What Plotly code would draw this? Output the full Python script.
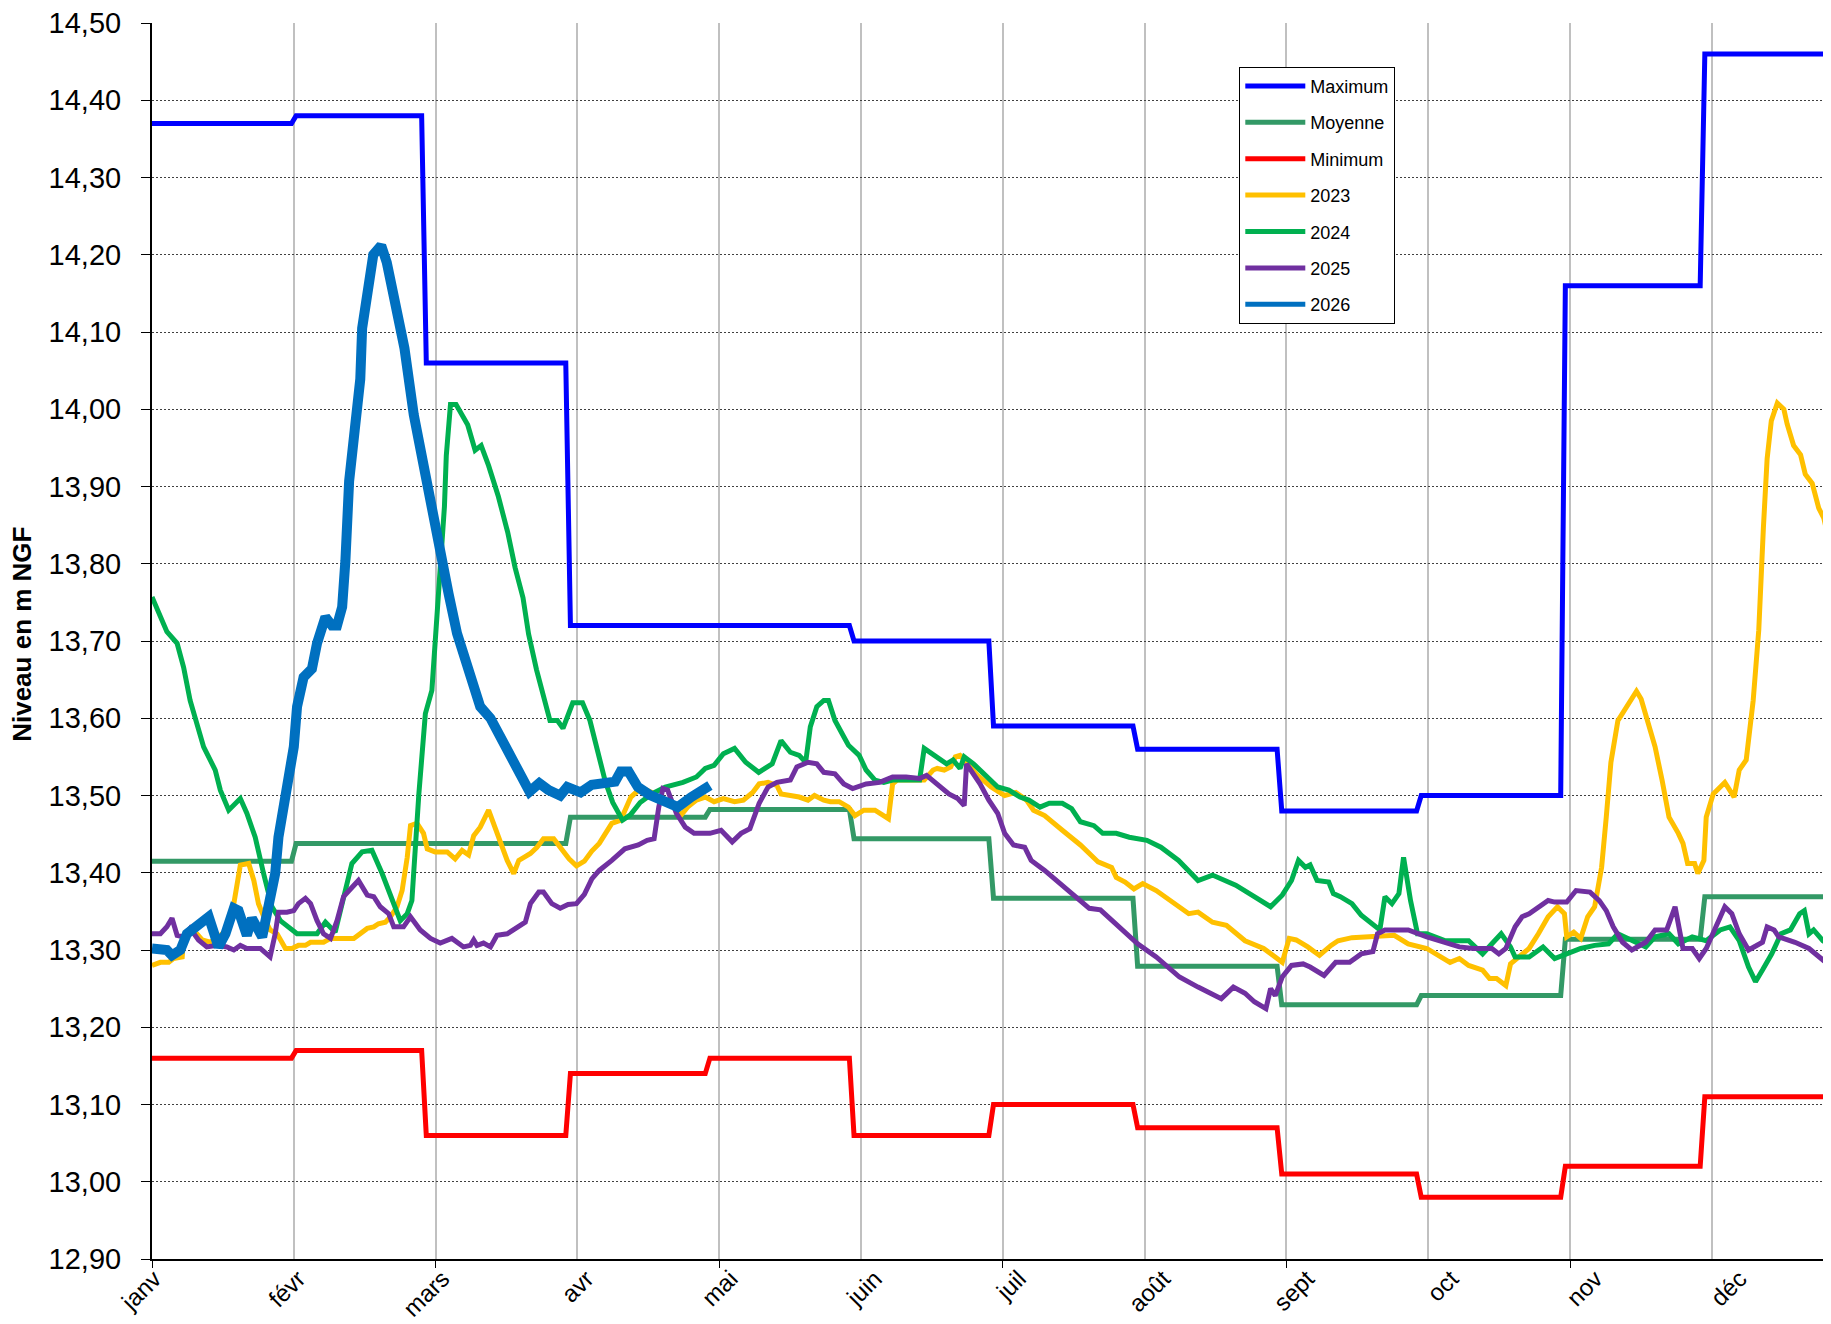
import plotly.graph_objects as go

# ---------------- data ----------------
MONTH_LABELS = ["janv", "févr", "mars", "avr", "mai", "juin",
                "juil", "août", "sept", "oct", "nov", "déc"]
MONTH_START_DAYS = [0, 31, 59, 90, 120, 151, 181, 212, 243, 273, 304, 334]
YEAR_END_DAY = 365
GRID_INTERVAL_DAYS = 30.5      # vertical gridlines
LABEL_INTERVAL_DAYS = 31       # month labels
LABEL_OFFSET_DAYS = 0.5

MAXIMUM = [14.37, 14.38, 14.06, 13.72, 13.72, 13.70, 13.59, 13.56, 13.48, 13.50, 14.16, 14.46]
MOYENNE = [13.415, 13.438, 13.438, 13.472, 13.482, 13.444, 13.367, 13.279, 13.229, 13.241, 13.314, 13.369]
MINIMUM = [13.16, 13.17, 13.06, 13.14, 13.16, 13.06, 13.10, 13.07, 13.01, 12.98, 13.02, 13.11]

DAYS_2023 = [0, 1.8, 3.6, 4.6, 6.5, 6.8, 8.9, 10.8, 12.5, 14.3, 16.1, 17.6, 19.0, 20.8, 21.9, 22.9,
             24.4, 25.4, 26.9, 28.7, 30.1, 31.5, 33.0, 34.1, 36.9, 38.4, 43.4, 44.8, 46.3, 47.7,
             48.7, 50.2, 51.3, 52.7, 53.8, 54.9, 55.6, 57.0, 58.4, 59.2, 60.9, 63.5, 65.2, 66.7,
             68.1, 69.2, 70.6, 72.4, 73.5, 74.9, 76.4, 77.8, 78.9, 80.0, 81.4, 82.8, 84.2, 86.4,
             87.8, 89.7, 91.3, 93.0, 94.6, 96.2, 98.9, 100.8, 103.0, 105.2, 107.5, 109.9, 111.8,
             113.7, 115.2, 117.1, 119.0, 120.9, 122.9, 125.3, 127.2, 129.2, 130.6, 132.5, 134.4,
             135.3, 137.3, 139.2, 141.1, 142.5, 144.5, 145.9, 147.8, 149.8, 151.2, 153.1, 155.5,
             158.4, 159.3, 160.3, 163.2, 166.1, 168.0, 168.9, 170.4, 171.8, 172.8, 173.8, 175.7,
             177.6, 180.5, 183.4, 185.8, 188.1, 189.6, 192.0, 195.8, 199.7, 203.5, 206.4, 207.4,
             209.3, 211.2, 213.1, 216.0, 219.0, 223.0, 225.0, 228.1, 231.1, 235.1, 239.1, 243.1,
             244.6, 246.1, 248.6, 251.1, 253.6, 255.1, 258.1, 261.1, 264.1, 267.2, 270.2, 274.2,
             277.2, 279.2, 281.2, 283.2, 286.2, 287.7, 289.2, 291.2, 292.2, 294.2, 296.2, 298.2,
             300.3, 302.3, 303.8, 304.3, 305.8, 307.3, 308.8, 310.3, 311.8, 312.8, 313.8, 315.3,
             317.3, 318.3, 319.3, 320.3, 321.3, 323.3, 324.8, 326.3, 328.3, 329.3, 330.3, 331.8,
             332.5, 333.8, 334.3, 335.8, 338.3, 340.3, 341.4, 342.9, 344.4, 345.6, 346.6, 347.4,
             348.3, 349.6, 351.0, 351.7, 353.1, 354.6, 355.6, 357.1, 358.5, 359.6, 361.2, 363.0]
VALS_2023 = [13.280, 13.284, 13.284, 13.289, 13.291, 13.317, 13.326, 13.313, 13.310, 13.317, 13.326,
             13.360, 13.410, 13.412, 13.390, 13.360, 13.338, 13.326, 13.321, 13.302, 13.302, 13.306,
             13.306, 13.310, 13.310, 13.315, 13.315, 13.321, 13.328, 13.330, 13.334, 13.336, 13.343,
             13.356, 13.377, 13.420, 13.461, 13.464, 13.451, 13.431, 13.427, 13.427, 13.418, 13.429,
             13.423, 13.448, 13.459, 13.481, 13.464, 13.438, 13.416, 13.399, 13.416, 13.420, 13.425,
             13.433, 13.444, 13.444, 13.433, 13.418, 13.409, 13.415, 13.428, 13.438, 13.464, 13.468,
             13.498, 13.510, 13.504, 13.494, 13.490, 13.474, 13.485, 13.494, 13.498, 13.492, 13.496,
             13.492, 13.494, 13.504, 13.515, 13.517, 13.513, 13.502, 13.500, 13.498, 13.494, 13.500,
             13.494, 13.492, 13.492, 13.485, 13.474, 13.481, 13.481, 13.470, 13.515, 13.520, 13.520,
             13.520, 13.533, 13.535, 13.533, 13.537, 13.550, 13.552, 13.539, 13.526, 13.511, 13.500,
             13.504, 13.494, 13.481, 13.474, 13.455, 13.436, 13.414, 13.407, 13.394, 13.388, 13.379,
             13.386, 13.377, 13.364, 13.347, 13.349, 13.336, 13.332, 13.312, 13.302, 13.284, 13.315,
             13.313, 13.304, 13.293, 13.306, 13.312, 13.316, 13.317, 13.319, 13.319, 13.308, 13.302,
             13.291, 13.284, 13.289, 13.280, 13.274, 13.263, 13.263, 13.254, 13.282, 13.291, 13.302,
             13.321, 13.343, 13.356, 13.347, 13.317, 13.323, 13.315, 13.343, 13.356, 13.407, 13.472,
             13.543, 13.597, 13.615, 13.625, 13.635, 13.625, 13.606, 13.563, 13.520, 13.472, 13.451,
             13.438, 13.412, 13.412, 13.399, 13.416, 13.472, 13.502, 13.517, 13.498, 13.533, 13.546,
             13.623, 13.714, 13.847, 13.936, 13.985, 14.008, 14.000, 13.981, 13.953, 13.941, 13.916,
             13.904, 13.872, 13.859, 13.817, 13.790]

DAYS_2024 = [0, 3.2, 5.4, 6.8, 8.2, 11.1, 13.6, 14.7, 16.5, 19.0, 20.4, 22.2, 24.0, 25.8, 27.6,
             31.2, 35.5, 37.3, 39.4, 40.9, 43.0, 45.2, 47.3, 49.5, 51.3, 53.4, 54.9, 55.9, 57.4,
             58.8, 60.2, 61.7, 62.1, 62.9, 63.3, 64.2, 65.4, 67.9, 69.5, 70.8, 72.4, 74.5, 76.5,
             78.1, 79.8, 81.0, 82.7, 83.9, 85.6, 87.2, 88.4, 90.5, 92.6, 94.2, 95.9, 97.5, 99.1,
             101.2, 102.9, 105.0, 107.5, 110.4, 114.2, 117.1, 119.0, 120.9, 122.9, 125.3, 127.7,
             130.5, 133.4, 135.3, 137.3, 139.2, 140.6, 141.6, 143.0, 144.5, 145.5, 146.9, 148.8,
             149.8, 152.1, 153.6, 155.5, 157.4, 159.3, 163.2, 165.1, 166.1, 168.9, 170.9, 172.3,
             173.8, 174.7, 176.7, 178.6, 180.5, 181.9, 184.3, 186.7, 188.6, 191.0, 193.0, 195.8,
             197.8, 199.7, 202.6, 204.5, 207.4, 210.2, 214.0, 217.0, 220.8, 225.0, 228.1, 233.1,
             237.1, 240.6, 243.1, 245.1, 246.6, 248.1, 249.1, 250.6, 253.1, 254.1, 255.6, 258.1,
             260.1, 264.1, 265.2, 266.7, 268.2, 269.2, 270.7, 272.2, 274.2, 278.2, 283.2, 286.2,
             288.2, 290.2, 292.2, 293.2, 296.2, 299.2, 301.7, 304.3, 307.3, 310.3, 313.3, 315.3,
             317.3, 321.3, 323.3, 326.3, 328.3, 331.3, 334.3, 337.3, 339.4, 341.4, 343.4, 344.9,
             346.4, 348.4, 350.4, 352.4, 354.4, 355.4, 356.4, 357.4, 359.4, 361.2, 363.0]
VALS_2024 = [13.757, 13.712, 13.697, 13.666, 13.623, 13.563, 13.533, 13.507, 13.481, 13.496, 13.477,
             13.446, 13.399, 13.356, 13.338, 13.321, 13.321, 13.336, 13.323, 13.360, 13.412, 13.427,
             13.429, 13.399, 13.369, 13.338, 13.347, 13.364, 13.502, 13.606, 13.636, 13.770, 13.808,
             13.874, 13.940, 14.006, 14.006, 13.980, 13.947, 13.953, 13.927, 13.887, 13.841, 13.795,
             13.756, 13.709, 13.663, 13.636, 13.597, 13.597, 13.587, 13.620, 13.620, 13.597, 13.557,
             13.518, 13.491, 13.468, 13.475, 13.491, 13.502, 13.511, 13.517, 13.524, 13.535, 13.539,
             13.554, 13.561, 13.543, 13.530, 13.541, 13.571, 13.556, 13.552, 13.543, 13.589, 13.615,
             13.623, 13.623, 13.597, 13.576, 13.565, 13.552, 13.533, 13.520, 13.517, 13.520, 13.520,
             13.520, 13.561, 13.550, 13.541, 13.546, 13.535, 13.550, 13.541, 13.530, 13.520, 13.511,
             13.507, 13.498, 13.494, 13.485, 13.490, 13.490, 13.483, 13.466, 13.461, 13.451, 13.451,
             13.446, 13.442, 13.433, 13.416, 13.390, 13.397, 13.384, 13.369, 13.356, 13.371, 13.390,
             13.416, 13.407, 13.410, 13.390, 13.388, 13.373, 13.369, 13.360, 13.345, 13.326, 13.369,
             13.360, 13.373, 13.420, 13.364, 13.321, 13.321, 13.312, 13.312, 13.295, 13.308, 13.321,
             13.304, 13.291, 13.291, 13.304, 13.289, 13.295, 13.302, 13.306, 13.308, 13.321, 13.315,
             13.304, 13.317, 13.321, 13.308, 13.317, 13.312, 13.326, 13.330, 13.312, 13.278, 13.259,
             13.274, 13.295, 13.321, 13.326, 13.347, 13.351, 13.321, 13.326, 13.312, 13.306, 13.302]

DAYS_2025 = [0, 1.8, 3.2, 4.3, 5.4, 6.8, 8.2, 10.0, 11.8, 14.0, 16.1, 17.6, 19.0, 20.4, 23.3, 25.4,
             26.5, 27.2, 29.0, 30.5, 31.5, 33.0, 34.1, 35.5, 36.9, 38.4, 39.8, 41.2, 42.7, 44.4,
             46.3, 47.7, 49.1, 50.9, 52.0, 54.1, 55.6, 57.7, 59.9, 62.0, 64.5, 67.0, 68.5, 69.2,
             69.9, 71.3, 72.8, 74.2, 76.4, 78.5, 80.3, 81.4, 83.2, 84.2, 86.0, 87.8, 89.5, 91.3,
             93.0, 94.6, 96.2, 98.9, 101.7, 104.6, 106.5, 108.0, 109.0, 109.9, 110.9, 112.8, 114.7,
             116.6, 120.0, 122.4, 124.8, 126.7, 128.6, 130.6, 132.5, 134.4, 137.3, 138.7, 141.1,
             143.0, 144.5, 146.9, 148.8, 150.7, 153.6, 156.5, 159.3, 162.2, 165.1, 166.6, 168.9,
             171.4, 173.3, 174.7, 175.2, 176.7, 178.1, 180.0, 181.9, 183.4, 185.3, 187.7, 189.1,
             192.0, 194.9, 197.8, 201.6, 204.0, 208.0, 212.0, 216.0, 221.0, 225.0, 230.0, 232.6,
             235.1, 237.1, 239.6, 240.6, 241.6, 243.1, 245.1, 247.6, 249.1, 252.1, 254.6, 257.6,
             260.1, 262.6, 263.6, 265.2, 270.2, 274.2, 278.2, 281.2, 284.2, 288.2, 289.7, 291.2,
             293.2, 294.7, 296.2, 298.2, 300.3, 301.7, 304.3, 306.3, 309.3, 311.3, 312.8, 314.3,
             316.3, 318.3, 321.3, 323.3, 325.8, 327.6, 329.3, 331.3, 332.8, 334.3, 336.3, 338.3,
             339.8, 341.4, 343.4, 346.4, 347.4, 348.9, 349.9, 353.4, 356.4, 359.4, 361.2, 363.0]
VALS_2025 = [13.321, 13.321, 13.330, 13.341, 13.319, 13.317, 13.328, 13.313, 13.304, 13.306, 13.304,
             13.300, 13.306, 13.302, 13.302, 13.291, 13.321, 13.349, 13.349, 13.351, 13.360, 13.367,
             13.360, 13.338, 13.321, 13.315, 13.338, 13.369, 13.379, 13.390, 13.371, 13.369, 13.356,
             13.347, 13.330, 13.330, 13.343, 13.326, 13.315, 13.309, 13.315, 13.304, 13.306, 13.313,
             13.306, 13.309, 13.304, 13.319, 13.321, 13.330, 13.336, 13.360, 13.375, 13.375, 13.360,
             13.354, 13.359, 13.360, 13.372, 13.392, 13.403, 13.416, 13.431, 13.436, 13.442, 13.444,
             13.485, 13.509, 13.507, 13.477, 13.459, 13.451, 13.451, 13.455, 13.440, 13.451, 13.457,
             13.490, 13.511, 13.517, 13.520, 13.537, 13.543, 13.541, 13.530, 13.528, 13.515, 13.509,
             13.515, 13.517, 13.524, 13.524, 13.522, 13.526, 13.515, 13.502, 13.496, 13.487, 13.541,
             13.528, 13.515, 13.494, 13.477, 13.451, 13.436, 13.433, 13.416, 13.403, 13.388, 13.373,
             13.354, 13.352, 13.330, 13.308, 13.291, 13.265, 13.252, 13.237, 13.252, 13.244, 13.233,
             13.224, 13.250, 13.241, 13.265, 13.280, 13.282, 13.278, 13.267, 13.284, 13.284, 13.295,
             13.298, 13.321, 13.326, 13.326, 13.317, 13.310, 13.304, 13.302, 13.302, 13.295, 13.302,
             13.330, 13.343, 13.347, 13.356, 13.364, 13.362, 13.362, 13.377, 13.375, 13.364, 13.351,
             13.330, 13.310, 13.300, 13.310, 13.326, 13.326, 13.356, 13.302, 13.302, 13.289, 13.302,
             13.330, 13.356, 13.347, 13.321, 13.300, 13.310, 13.330, 13.326, 13.317, 13.310, 13.302,
             13.287, 13.295, 13.292]

DAYS_2026 = [0, 3.2, 4.3, 6.1, 7.5, 9.7, 12.2, 14.3, 15.8, 17.6, 18.6, 20.4, 21.5, 23.7, 25.1,
             26.5, 27.2, 29.0, 30.5, 31.2, 32.6, 34.4, 35.5, 37.3, 38.7, 39.8, 40.9, 41.6, 42.4,
             43.6, 44.8, 45.2, 46.5, 47.6, 49.3, 50.5, 51.8, 54.3, 56.3, 58.4, 60.5, 62.5, 63.8,
             65.6, 67.4, 69.2, 70.6, 72.8, 74.6, 76.0, 77.8, 79.2, 81.2, 83.3, 85.3, 87.8, 89.3,
             92.2, 94.6, 99.6, 100.8, 102.5, 104.5, 107.0, 110.3, 113.1, 116.0, 119.3, 120.0]
VALS_2026 = [13.302, 13.300, 13.293, 13.300, 13.321, 13.332, 13.343, 13.304, 13.321, 13.354, 13.351,
             13.319, 13.341, 13.317, 13.364, 13.399, 13.446, 13.511, 13.563, 13.615, 13.653, 13.664,
             13.697, 13.731, 13.720, 13.720, 13.744, 13.804, 13.907, 13.973, 14.039, 14.105, 14.171,
             14.200, 14.212, 14.190, 14.152, 14.079, 13.993, 13.927, 13.861, 13.788, 13.761, 13.710,
             13.675, 13.649, 13.615, 13.600, 13.580, 13.559, 13.541, 13.524, 13.505, 13.516, 13.507,
             13.500, 13.511, 13.504, 13.514, 13.518, 13.531, 13.531, 13.511, 13.501, 13.491, 13.485,
             13.498, 13.511, 13.513]

SERIES_NAMES = ["Maximum", "Moyenne", "Minimum", "2023", "2024", "2025", "2026"]
COLORS = {"Maximum": "#0000FF", "Moyenne": "#339966", "Minimum": "#FF0000",
          "2023": "#FFC000", "2024": "#00B050", "2025": "#7030A0", "2026": "#0070C0"}
WIDTHS = {"Maximum": 5, "Moyenne": 5, "Minimum": 5,
          "2023": 5, "2024": 5, "2025": 5, "2026": 10}
LEGEND_LINE_WIDTH = 5


def monthly_steps(values):
    bounds = MONTH_START_DAYS + [YEAR_END_DAY]
    xs, ys = [], []
    for i, v in enumerate(values):
        end = bounds[i + 1] - 1 if i < len(values) - 1 else bounds[i + 1]
        xs += [bounds[i], end]
        ys += [v, v]
    return xs, ys


series = {
    "Maximum": monthly_steps(MAXIMUM),
    "Moyenne": monthly_steps(MOYENNE),
    "Minimum": monthly_steps(MINIMUM),
    "2023": (DAYS_2023, VALS_2023),
    "2024": (DAYS_2024, VALS_2024),
    "2025": (DAYS_2025, VALS_2025),
    "2026": (DAYS_2026, VALS_2026),
}

FONT = "Arial, Liberation Sans, sans-serif"

# ---------------- geometry (page has an 8px body margin) ----------------
FIG_W, FIG_H = 1831, 1324
M_L, M_T, M_B, M_R = 144, 15, 73, 0
PX_PER_DAY = 141.8 / GRID_INTERVAL_DAYS
X_MAX = (FIG_W - M_L - M_R) / PX_PER_DAY

fig = go.Figure()
for name in SERIES_NAMES:
    xs, ys = series[name]
    thick = WIDTHS[name] != LEGEND_LINE_WIDTH
    fig.add_trace(go.Scatter(
        x=xs, y=ys, mode="lines", name=name, legendgroup=name,
        showlegend=not thick,
        line=dict(color=COLORS[name], width=WIDTHS[name]),
    ))
    if thick:
        # legend entry drawn with the same line width as the others
        fig.add_trace(go.Scatter(
            x=[None], y=[None], mode="lines", name=name, legendgroup=name,
            line=dict(color=COLORS[name], width=LEGEND_LINE_WIDTH),
        ))

# helper trace for the overlay axis that carries the month labels
fig.add_trace(go.Scatter(x=[], y=[], xaxis="x2", showlegend=False, hoverinfo="skip"))

grid_positions = [i * GRID_INTERVAL_DAYS for i in range(len(MONTH_LABELS))]
major_tick_positions = grid_positions[::2]
minor_grid_positions = grid_positions[1::2]
label_positions = [i * LABEL_INTERVAL_DAYS + LABEL_OFFSET_DAYS for i in range(len(MONTH_LABELS))]

plot_w = FIG_W - M_L - M_R
plot_h = FIG_H - M_T - M_B

GRID_X = dict(color="#C0C0C0", width=1.5)

fig.update_layout(
    width=FIG_W, height=FIG_H,
    margin=dict(l=M_L, r=M_R, t=M_T, b=M_B, pad=0),
    paper_bgcolor="white", plot_bgcolor="white",
    separators=", ",
    font=dict(family=FONT, color="black"),
    legend=dict(
        x=(1231.3 - M_L) / plot_w, y=1 - (58.7 - M_T) / plot_h,
        xanchor="left", yanchor="top",
        bordercolor="black", borderwidth=1, bgcolor="white",
        font=dict(family=FONT, size=18, color="black"),
        traceorder="grouped", tracegroupgap=10, itemwidth=60,
    ),
    xaxis=dict(
        range=[0, X_MAX], tickmode="array", tickvals=major_tick_positions,
        showticklabels=False,
        ticks="outside", ticklen=7, tickcolor="black", tickwidth=1,
        showgrid=True, gridcolor=GRID_X["color"], gridwidth=GRID_X["width"],
        minor=dict(tickvals=minor_grid_positions, ticks="", showgrid=True,
                   gridcolor=GRID_X["color"], gridwidth=GRID_X["width"]),
        showline=True, linecolor="black", linewidth=2, zeroline=False,
    ),
    xaxis2=dict(
        range=[0, X_MAX], overlaying="x", anchor="y", side="bottom",
        tickmode="array", tickvals=label_positions, ticktext=MONTH_LABELS,
        tickangle=-45, tickfont=dict(family=FONT, size=24, color="black"),
        ticks="", showgrid=False, showline=False, zeroline=False,
    ),
    yaxis=dict(
        range=[12.9, 14.5], tick0=12.9, dtick=0.1, tickformat=".2f",
        tickfont=dict(family=FONT, size=29, color="black"),
        ticks="outside", ticklen=9, tickcolor="black", tickwidth=1,
        ticklabelstandoff=14, ticklabeloverflow="allow",
        showgrid=True, gridcolor="#404040", griddash="2px,2px", gridwidth=1,
        showline=True, linecolor="black", linewidth=2, zeroline=False,
    ),
    annotations=[dict(
        text="<b>Niveau en m NGF</b>", xref="paper", yref="paper",
        x=(14 - M_L) / plot_w, y=0.505, xanchor="center", yanchor="middle",
        textangle=-90, showarrow=False,
        font=dict(family=FONT, size=26, color="black"),
    )],
)

fig.write_html("out.html")
